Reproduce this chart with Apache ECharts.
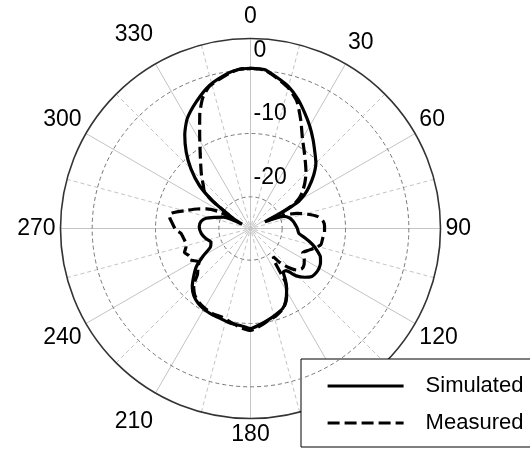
<!DOCTYPE html>
<html>
<head>
<meta charset="utf-8">
<script src="https://cdn.jsdelivr.net/npm/echarts@6/dist/echarts.min.js"></script>
<style>
  html, body { margin: 0; padding: 0; background: #fff; }
  #chart { width: 530px; height: 450px; }
</style>
</head>
<body>
<div id="chart"></div>
<script>
// Radiation pattern, normalised gain in dB versus angle in degrees
const simAngles = [0, 5, 10, 15, 20, 25, 30, 35, 40, 45, 50, 55, 58, 61, 63, 65, 67, 70, 75, 80, 85, 90,
  96, 100, 104, 108, 112, 116, 120, 124, 128, 132, 136, 140, 143, 146, 150, 154, 158, 164, 169, 174,
  180, 186, 192, 198, 204, 210, 215, 220, 225, 230, 235, 240, 245, 251, 257, 264, 272, 278, 283, 288,
  293, 297, 300, 303, 306, 310, 315, 320, 325, 330, 337, 344, 352, 356, 360];
const simGain = [0.3, 0.2, -0.8, -1.8, -3.2, -4.8, -6.3, -7.8, -9.2, -10.4, -12.0, -13.8, -15.0, -16.6, -19.5, -22.5, -21.0, -19.4, -18.6, -18.2, -17.9, -17.6,
  -17.3, -16.2, -15.0, -14.0, -13.1, -12.7, -12.5, -12.5, -12.7, -13.5, -14.6, -16.3, -16.4, -15.1, -13.6, -12.3, -11.4, -10.8, -10.3, -9.8,
  -9.2, -9.6, -9.7, -10.0, -10.1, -10.3, -10.6, -11.1, -12.0, -13.3, -14.6, -16.4, -18.0, -18.4, -17.8, -17.2, -16.9, -17.1, -17.8, -19.3,
  -20.4, -23.5, -22.0, -20.3, -17.6, -14.5, -11.7, -9.2, -6.9, -5.0, -3.2, -1.5, -0.2, 0.2, 0.3];

const measAngles = [0, 5, 10, 15, 20, 25, 30, 35, 40, 45, 50, 55, 58, 61, 64, 66, 68, 72, 76, 80, 84, 88,
  93, 98, 103, 107, 111, 115, 120, 124, 128, 132, 136, 139, 141, 144, 147, 150, 154, 158, 164, 169, 174,
  180, 186, 192, 198, 204, 210, 215, 220, 225, 229, 233, 237, 240, 243, 246, 250, 254, 258, 262, 266, 269,
  274, 278, 281, 285, 290, 294, 298, 300, 303, 306, 309, 312, 318, 326, 332, 336, 340, 344, 352, 356, 360];
const measGain = [0.3, 0.1, -0.9, -2.0, -3.6, -6.2, -8.6, -10.2, -11.5, -12.6, -13.8, -15.0, -15.9, -17.2, -20.2, -22.0, -19.3, -17.3, -15.7, -14.2, -13.5, -13.3,
  -13.3, -13.5, -13.6, -14.4, -15.3, -15.9, -15.2, -14.8, -14.7, -15.2, -16.5, -17.8, -19.3, -18.5, -14.8, -13.5, -12.2, -11.3, -10.6, -10.2, -9.6,
  -8.9, -9.3, -9.9, -10.3, -10.3, -10.5, -10.8, -11.3, -12.3, -13.9, -14.6, -15.3, -14.8, -14.2, -14.4, -13.9, -14.4, -14.5, -14.3, -14.0, -13.2,
  -12.6, -12.1, -12.3, -14.2, -16.0, -17.4, -19.3, -21.8, -20.4, -17.4, -15.6, -15.0, -13.4, -10.8, -7.9, -5.3, -3.0, -1.6, -0.3, 0.2, 0.3];

const seriesNames = ['Simulated', 'Measured'];
const angleTicks = [0, 30, 60, 90, 120, 150, 180, 210, 240, 270, 300, 330];
const radialTicks = [-20, -10, 0];
const radialMin = -25;
const radialMax = 5;

const FONT = 'Liberation Sans, Arial, Helvetica, sans-serif';
const LABEL_SIZE = 23;

// per-label nudges for the angle labels around the rim
const angleLabelStyle = { 0: 'lift', 30: 'lift', 330: 'lift2', 210: 'drop' };

const pairs = (angles, gains) => angles.map((a, i) => [gains[i], a]);

const chart = echarts.init(document.getElementById('chart'), null, { renderer: 'canvas' });

const polarCenter = [250.5, 228.5];
const polarRadius = 190;

const richLabel = (pad) => ({ fontSize: LABEL_SIZE, color: '#000', fontFamily: FONT, padding: pad });

chart.setOption({
  backgroundColor: '#ffffff',
  animation: false,
  textStyle: { fontFamily: FONT },
  polar: [
    { center: polarCenter, radius: polarRadius },
    { center: polarCenter, radius: polarRadius }
  ],
  angleAxis: [
    {
      polarIndex: 0,
      type: 'value', min: 0, max: 360, interval: 30,
      startAngle: 90, clockwise: true,
      axisLine: { show: true, lineStyle: { color: '#333', width: 1.6 } },
      axisTick: { show: false },
      axisLabel: {
        show: true, margin: 5, color: '#000', fontSize: LABEL_SIZE, fontFamily: FONT,
        formatter: function (v) {
          if (angleTicks.indexOf(v) < 0) return '';
          const key = angleLabelStyle[v] || 'plain';
          return '{' + key + '|' + v + '}';
        },
        rich: {
          plain: richLabel([0, 0, 0, 0]),
          lift: richLabel([0, 0, 5, 0]),
          lift2: richLabel([0, 0, 13, 0]),
          drop: richLabel([13, 0, 0, 0])
        }
      },
      splitLine: { show: true, lineStyle: { color: '#c4c4c4', width: 1, type: 'solid' } }
    },
    {
      polarIndex: 1,
      type: 'value', min: 0, max: 360, interval: 15,
      startAngle: 90, clockwise: true,
      axisLine: { show: false },
      axisTick: { show: false },
      axisLabel: { show: false },
      splitLine: { show: true, lineStyle: { color: ['rgba(0,0,0,0)', '#c4c4c4'], width: 1, type: [4, 3] } }
    }
  ],
  radiusAxis: [
    {
      polarIndex: 0,
      type: 'value', min: radialMin, max: radialMax, interval: 5,
      axisLine: { show: false },
      axisTick: { show: false },
      axisLabel: {
        show: true, color: '#000', fontSize: LABEL_SIZE, fontFamily: FONT,
        margin: -3, align: 'left', verticalAlign: 'bottom', padding: [0, 0, 8, 0],
        formatter: function (v) { return radialTicks.indexOf(v) >= 0 ? String(v) : ''; }
      },
      splitLine: { show: true, lineStyle: { color: ['rgba(0,0,0,0)', '#777'], width: 1, type: [4, 3] } },
      z: 5
    },
    {
      polarIndex: 1,
      type: 'value', min: radialMin, max: radialMax,
      show: false
    }
  ],
  legend: {
    orient: 'vertical',
    left: 301, top: 359,
    backgroundColor: '#ffffff',
    borderColor: '#000000', borderWidth: 1, borderRadius: 0,
    padding: [16, 40, 13, 25],
    itemWidth: 76, itemHeight: 14, itemGap: 15,
    selectedMode: false,
    itemStyle: { opacity: 0 },
    lineStyle: { width: 3.2 },
    textStyle: { fontSize: 22, color: '#000', fontFamily: FONT, padding: [0, 0, 0, 17] },
    data: seriesNames
  },
  series: [
    {
      name: seriesNames[0],
      type: 'line', coordinateSystem: 'polar', polarIndex: 0,
      symbol: 'none', smooth: 0.2,
      lineStyle: { color: '#000', width: 3.2, type: 'solid' },
      itemStyle: { color: '#000' },
      data: pairs(simAngles, simGain),
      z: 10
    },
    {
      name: seriesNames[1],
      type: 'line', coordinateSystem: 'polar', polarIndex: 0,
      symbol: 'none', smooth: 0.2,
      lineStyle: { color: '#000', width: 3.2, type: [12, 5] },
      itemStyle: { color: '#000' },
      data: pairs(measAngles, measGain),
      z: 9
    }
  ]
});
</script>
</body>
</html>
